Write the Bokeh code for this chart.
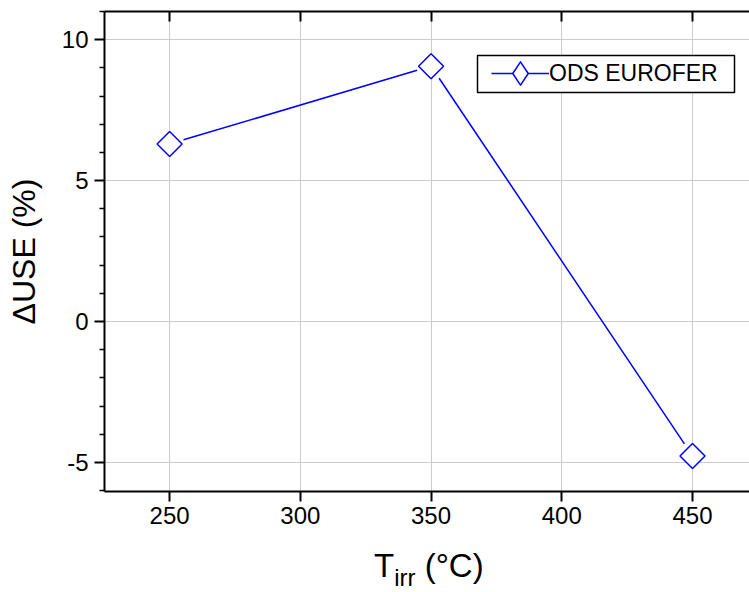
import math
from bokeh.plotting import figure
from bokeh.layouts import column
from bokeh.models import (Range1d, LinearAxis, FixedTicker, Grid, Legend,
                          LegendItem, BoxAnnotation, Div)
from bokeh.embed import file_html
from bokeh.resources import INLINE

# ---- data -------------------------------------------------------------
t_irr = [250, 350, 450]            # irradiation temperature (°C)
delta_use = [6.30, 9.06, -4.77]    # ΔUSE (%)
series_name = "ODS EUROFER"
x_ticks = [250, 300, 350, 400, 450]
y_ticks = [-5, 0, 5, 10]
y_minor = [-6, -4, -3, -2, -1, 1, 2, 3, 4, 6, 7, 8, 9, 11]

# ---- layout / style ----------------------------------------------------
FONT = "Liberation Sans"
BLUE = "#0000FF"
W, H = 749, 549
LEFT, RIGHT, TOP, BOTTOM = 104, 0, 11, 58
X0, X1 = 225.1, 471.8
Y0, Y1 = -6.03, 11.0
FW, FH = W - LEFT - RIGHT, H - TOP - BOTTOM

p = figure(width=W, height=H, x_range=Range1d(X0, X1), y_range=Range1d(Y0, Y1),
           output_backend="svg", toolbar_location=None,
           x_axis_type=None, y_axis_type=None,
           min_border_left=LEFT, min_border_right=RIGHT,
           min_border_top=TOP, min_border_bottom=BOTTOM)
p.outline_line_color = None
p.background_fill_color = "white"
p.border_fill_color = "white"

xt = FixedTicker(ticks=x_ticks)
yt = FixedTicker(ticks=y_ticks, minor_ticks=y_minor)

GRID = "#cccccc"
p.add_layout(Grid(dimension=0, ticker=xt, grid_line_color=GRID, grid_line_width=1))
p.add_layout(Grid(dimension=1, ticker=yt, grid_line_color=GRID, grid_line_width=1))

common = dict(axis_line_width=2, axis_line_color="black",
              major_tick_line_width=2, major_tick_line_color="black",
              major_label_text_font=FONT, major_label_text_font_size="24px",
              major_label_text_color="black")

ya = LinearAxis(ticker=yt, major_tick_out=10, major_tick_in=0,
                minor_tick_out=5, minor_tick_in=0, minor_tick_line_width=1.5,
                minor_tick_line_color="black", major_label_standoff=6,
                major_label_overrides={t: str(t) for t in y_ticks},
                axis_label="ΔUSE (%)", axis_label_text_font=FONT,
                axis_label_text_font_size="32px", axis_label_text_font_style="normal",
                axis_label_text_color="black", axis_label_standoff=17, **common)
p.add_layout(ya, "left")

xa = LinearAxis(ticker=xt, major_tick_out=10, major_tick_in=0,
                minor_tick_line_color=None, major_label_standoff=5, **common)
p.add_layout(xa, "below")

xtop = LinearAxis(ticker=xt, major_tick_out=0, major_tick_in=10,
                  minor_tick_line_color=None, major_label_standoff=0,
                  major_label_overrides={t: "" for t in x_ticks}, **common)
p.add_layout(xtop, "above")

# ---- data line with Origin-style gaps at the markers -------------------
sx = FW / (X1 - X0)
sy = FH / (Y1 - Y0)
GAP = 14.5
x0s, y0s, x1s, y1s = [], [], [], []
for (xa_, ya_), (xb, yb) in zip(zip(t_irr, delta_use), zip(t_irr[1:], delta_use[1:])):
    L = math.hypot((xb - xa_) * sx, (yb - ya_) * sy)
    f = GAP / L
    x0s.append(xa_ + (xb - xa_) * f)
    y0s.append(ya_ + (yb - ya_) * f)
    x1s.append(xb - (xb - xa_) * f)
    y1s.append(yb - (yb - ya_) * f)

seg = p.segment(x0s, y0s, x1s, y1s, line_color=BLUE, line_width=1.5)
# diamond used as the legend sample (hidden beneath the plot markers)
leg_marker = p.scatter(t_irr, delta_use, marker="diamond", size=23,
                       fill_color="white", line_color=BLUE, line_width=1.5,
                       line_join="round")
pts = p.scatter(t_irr, delta_use, marker="square", angle=math.pi / 4, size=17.7,
                fill_color="white", line_color=BLUE, line_width=1.5)

# ---- legend -------------------------------------------------------------
box = BoxAnnotation(left=373, right=630, top=436, bottom=399,
                    left_units="screen", right_units="screen",
                    top_units="screen", bottom_units="screen",
                    fill_color="white", fill_alpha=1.0,
                    line_color="black", line_width=1.5, line_alpha=1.0)
p.add_layout(box)

leg = Legend(items=[LegendItem(label=series_name, renderers=[seg, leg_marker])],
             location=(387, 389), glyph_width=58, glyph_height=58,
             label_standoff=0, padding=0, margin=0, spacing=0,
             border_line_color=None, background_fill_alpha=0,
             label_text_font=FONT, label_text_font_size="23px",
             label_text_color="black")
p.add_layout(leg)

# ---- x-axis title (with subscript) ------------------------------------
x_title = Div(
    text=('<div style="position:relative;width:749px;height:43px;'
          'font-family:\'Liberation Sans\',Arial,sans-serif;color:black;">'
          '<span style="position:absolute;left:374px;top:0px;font-size:33px;'
          'line-height:33px;white-space:nowrap;">T<span style="font-size:24px;'
          'position:relative;top:9px;">irr</span> (°C)</span></div>'),
    width=W, height=43, margin=0)

layout = column(p, x_title, spacing=0, margin=0)
open("out.html", "w").write(file_html(layout, INLINE))
